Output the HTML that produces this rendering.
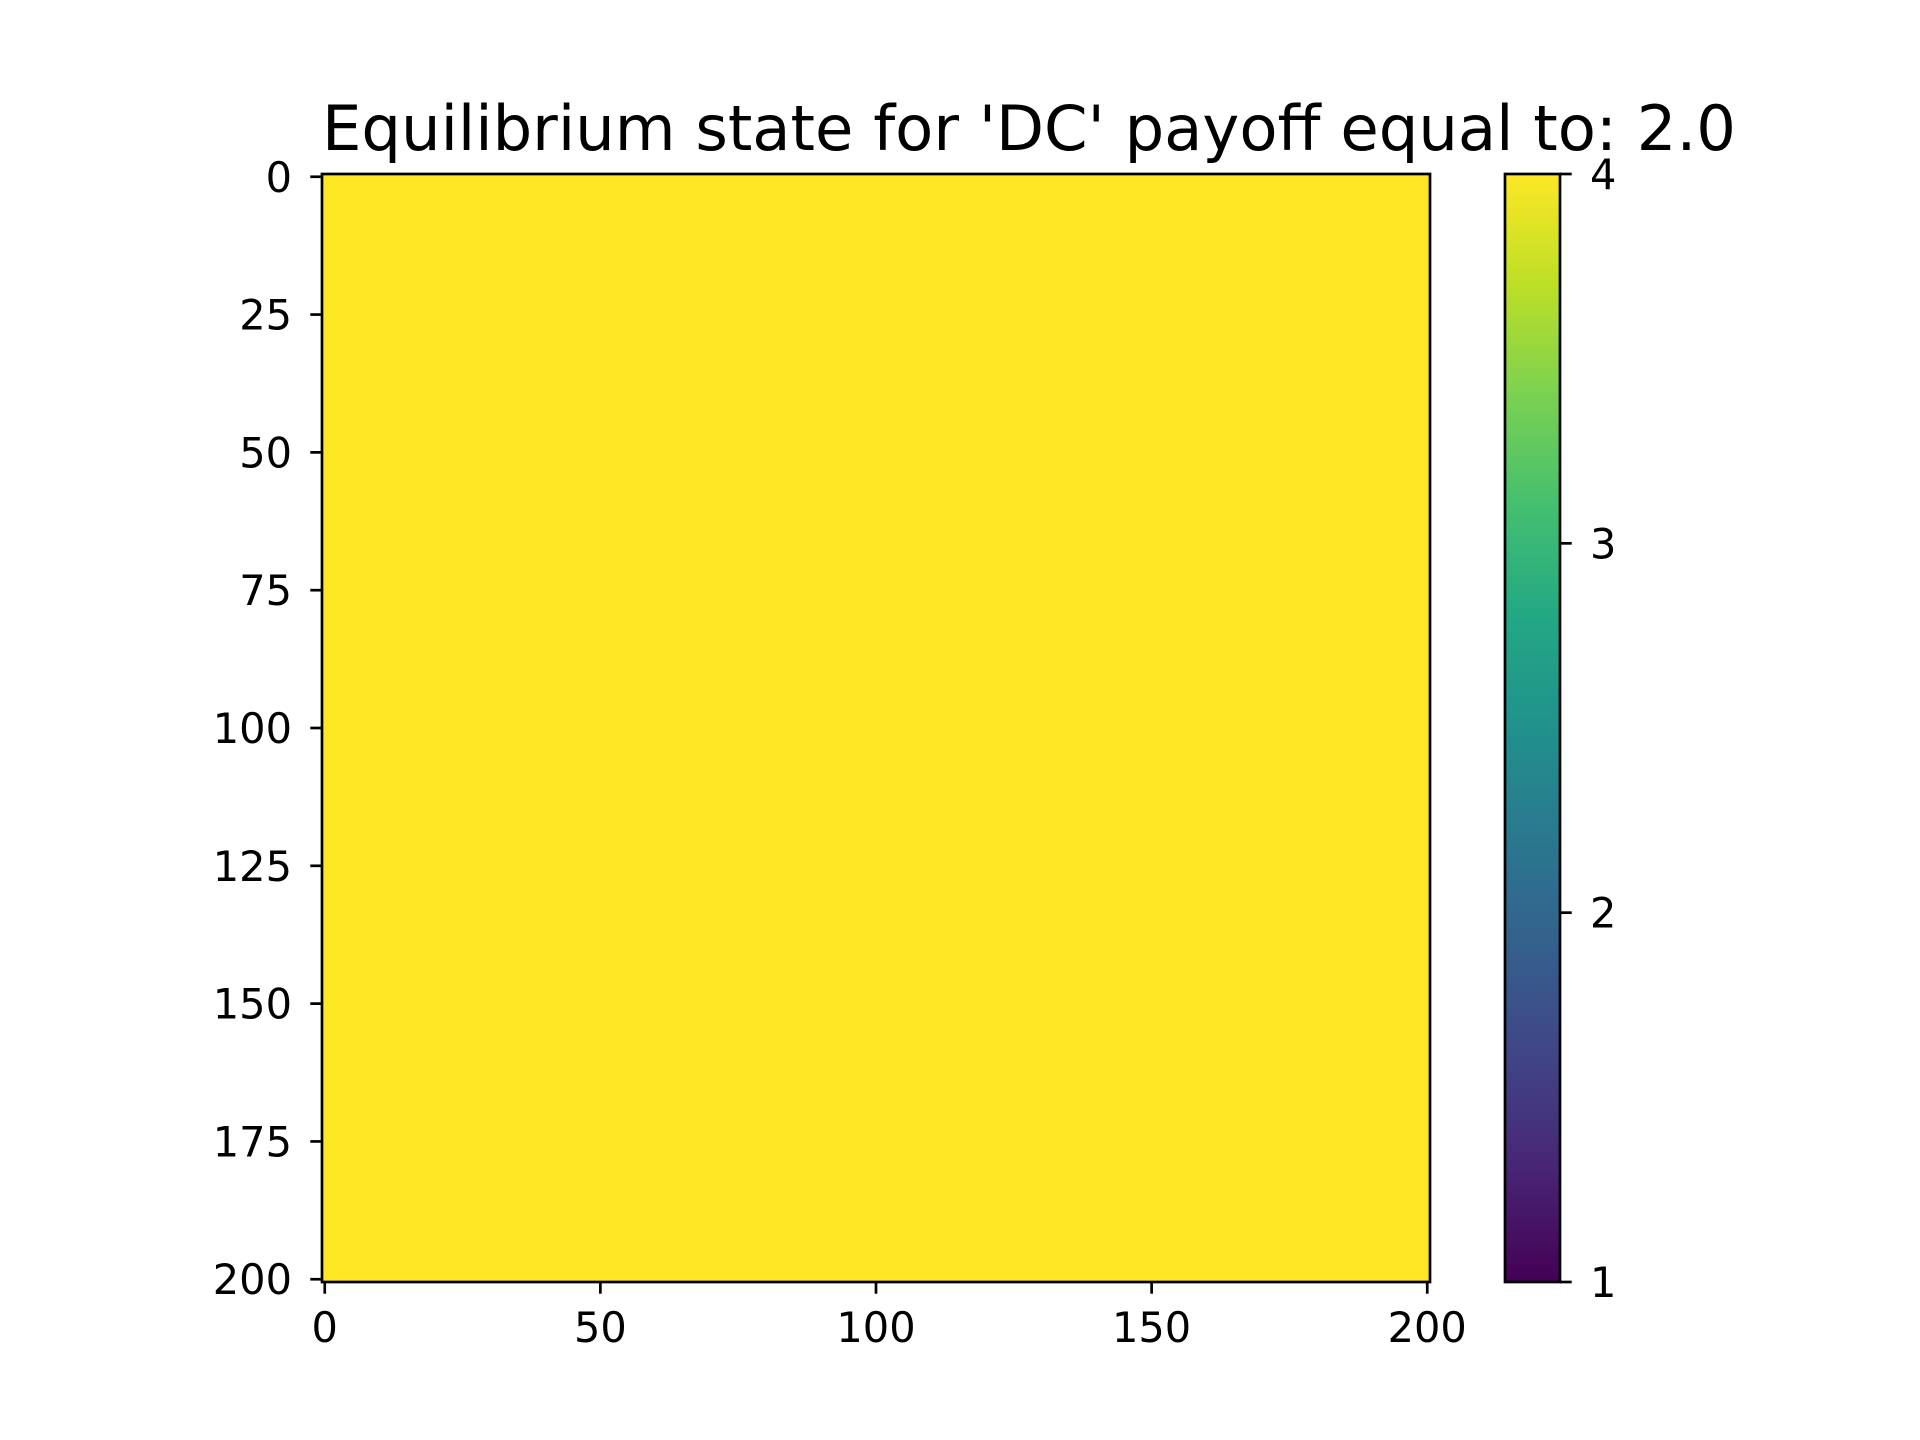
<!DOCTYPE html>
<html><head><meta charset="utf-8"><style>
html,body{margin:0;padding:0;background:#fff;}
svg{display:block;font-family:"DejaVu Sans","Liberation Sans",sans-serif;}
</style></head><body>
<svg id="fig" width="1920" height="1440" viewBox="0 0 1920 1440">
<defs>
<linearGradient id="viridis" x1="0" y1="1" x2="0" y2="0">
<stop offset="0" stop-color="#440154"/><stop offset="0.1" stop-color="#482475"/>
<stop offset="0.2" stop-color="#414487"/><stop offset="0.3" stop-color="#355f8d"/>
<stop offset="0.4" stop-color="#2a788e"/><stop offset="0.5" stop-color="#21918c"/>
<stop offset="0.6" stop-color="#22a884"/><stop offset="0.7" stop-color="#44bf70"/>
<stop offset="0.8" stop-color="#7ad151"/><stop offset="0.9" stop-color="#bddf26"/>
<stop offset="1" stop-color="#fde725"/>
</linearGradient>
</defs>
<text x="322" y="150" font-size="62" textLength="1414" lengthAdjust="spacingAndGlyphs">Equilibrium state for 'DC' payoff equal to: 2.0</text>
<g id="heat"></g>
<g id="axes"></g>
<rect x="1505" y="174" width="55" height="1108" fill="url(#viridis)" stroke="#000" stroke-width="2.7"/>
<g id="cbar"></g>
</svg>
<script>
const gridCols = 201;
const gridRowsCount = 201;
const cellValue = 4;
const rowRuns = Array(gridRowsCount).fill([[cellValue, gridCols]]);
const xTicks = [0, 50, 100, 150, 200];
const yTicks = [0, 25, 50, 75, 100, 125, 150, 175, 200];
const cbarTicks = [1, 2, 3, 4];
const cMin = 1, cMax = 4;

const NS = "http://www.w3.org/2000/svg";
const L = 322, T = 174, W = 1108, H = 1108;
const FS = 41.5;
const cw = W / gridCols, ch = H / gridRowsCount;
const xs = v => L + (v + 0.5) * cw;
const ys = v => T + (v + 0.5) * ch;
const cbY = v => T + H - (v - cMin) / (cMax - cMin) * H;
const stops = ["#440154","#482475","#414487","#355f8d","#2a788e","#21918c","#22a884","#44bf70","#7ad151","#bddf26","#fde725"];
function hex(h){return [1,3,5].map(i=>parseInt(h.substr(i,2),16));}
function viridis(v){
  let t = Math.max(0, Math.min(1, (v - cMin) / (cMax - cMin))) * 10;
  let i = Math.min(9, Math.floor(t)), f = t - i;
  const a = hex(stops[i]), b = hex(stops[i+1]);
  return "rgb(" + a.map((c,k)=>Math.round(c + (b[k]-c)*f)).join(",") + ")";
}
function mk(tag, attrs, parent){
  const e = document.createElementNS(NS, tag);
  for (const k in attrs) e.setAttribute(k, attrs[k]);
  parent.appendChild(e); return e;
}
const heat = document.getElementById("heat");
rowRuns.forEach((runs, r) => {
  let c0 = 0;
  runs.forEach(([val, n]) => {
    const el = mk("rect", {x: L + c0*cw, y: T + r*ch, width: n*cw + 0.5, height: ch + 0.5, fill: viridis(val)}, heat);
    
    
    c0 += n;
  });
});
const axes = document.getElementById("axes");
const frame = mk("rect", {x: L, y: T, width: W, height: H, fill: "none", stroke: "#000", "stroke-width": 2.7}, axes);


xTicks.forEach(v => {
  const x = xs(v);
  const t = mk("line", {x1: x, y1: T+H, x2: x, y2: T+H+11.7, stroke: "#000", "stroke-width": 2.7}, axes);
  
  
  const l = mk("text", {x: x, y: T+H+60, "font-size": FS, "text-anchor": "middle"}, axes);
  l.textContent = v;
  
  
});
yTicks.forEach(v => {
  const y = ys(v);
  const t = mk("line", {x1: L-11.7, y1: y, x2: L, y2: y, stroke: "#000", "stroke-width": 2.7}, axes);
  
  
  const l = mk("text", {x: L-30, y: y+15, "font-size": FS, "text-anchor": "end"}, axes);
  l.textContent = v;
  
  
});
const cb = document.getElementById("cbar");
cbarTicks.forEach(v => {
  const y = cbY(v);
  const t = mk("line", {x1: 1560, y1: y, x2: 1571.7, y2: y, stroke: "#000", "stroke-width": 2.7}, cb);
  
  
  const l = mk("text", {x: 1590, y: y+15, "font-size": FS}, cb);
  l.textContent = v;
  
  
});
</script>
</body></html>
